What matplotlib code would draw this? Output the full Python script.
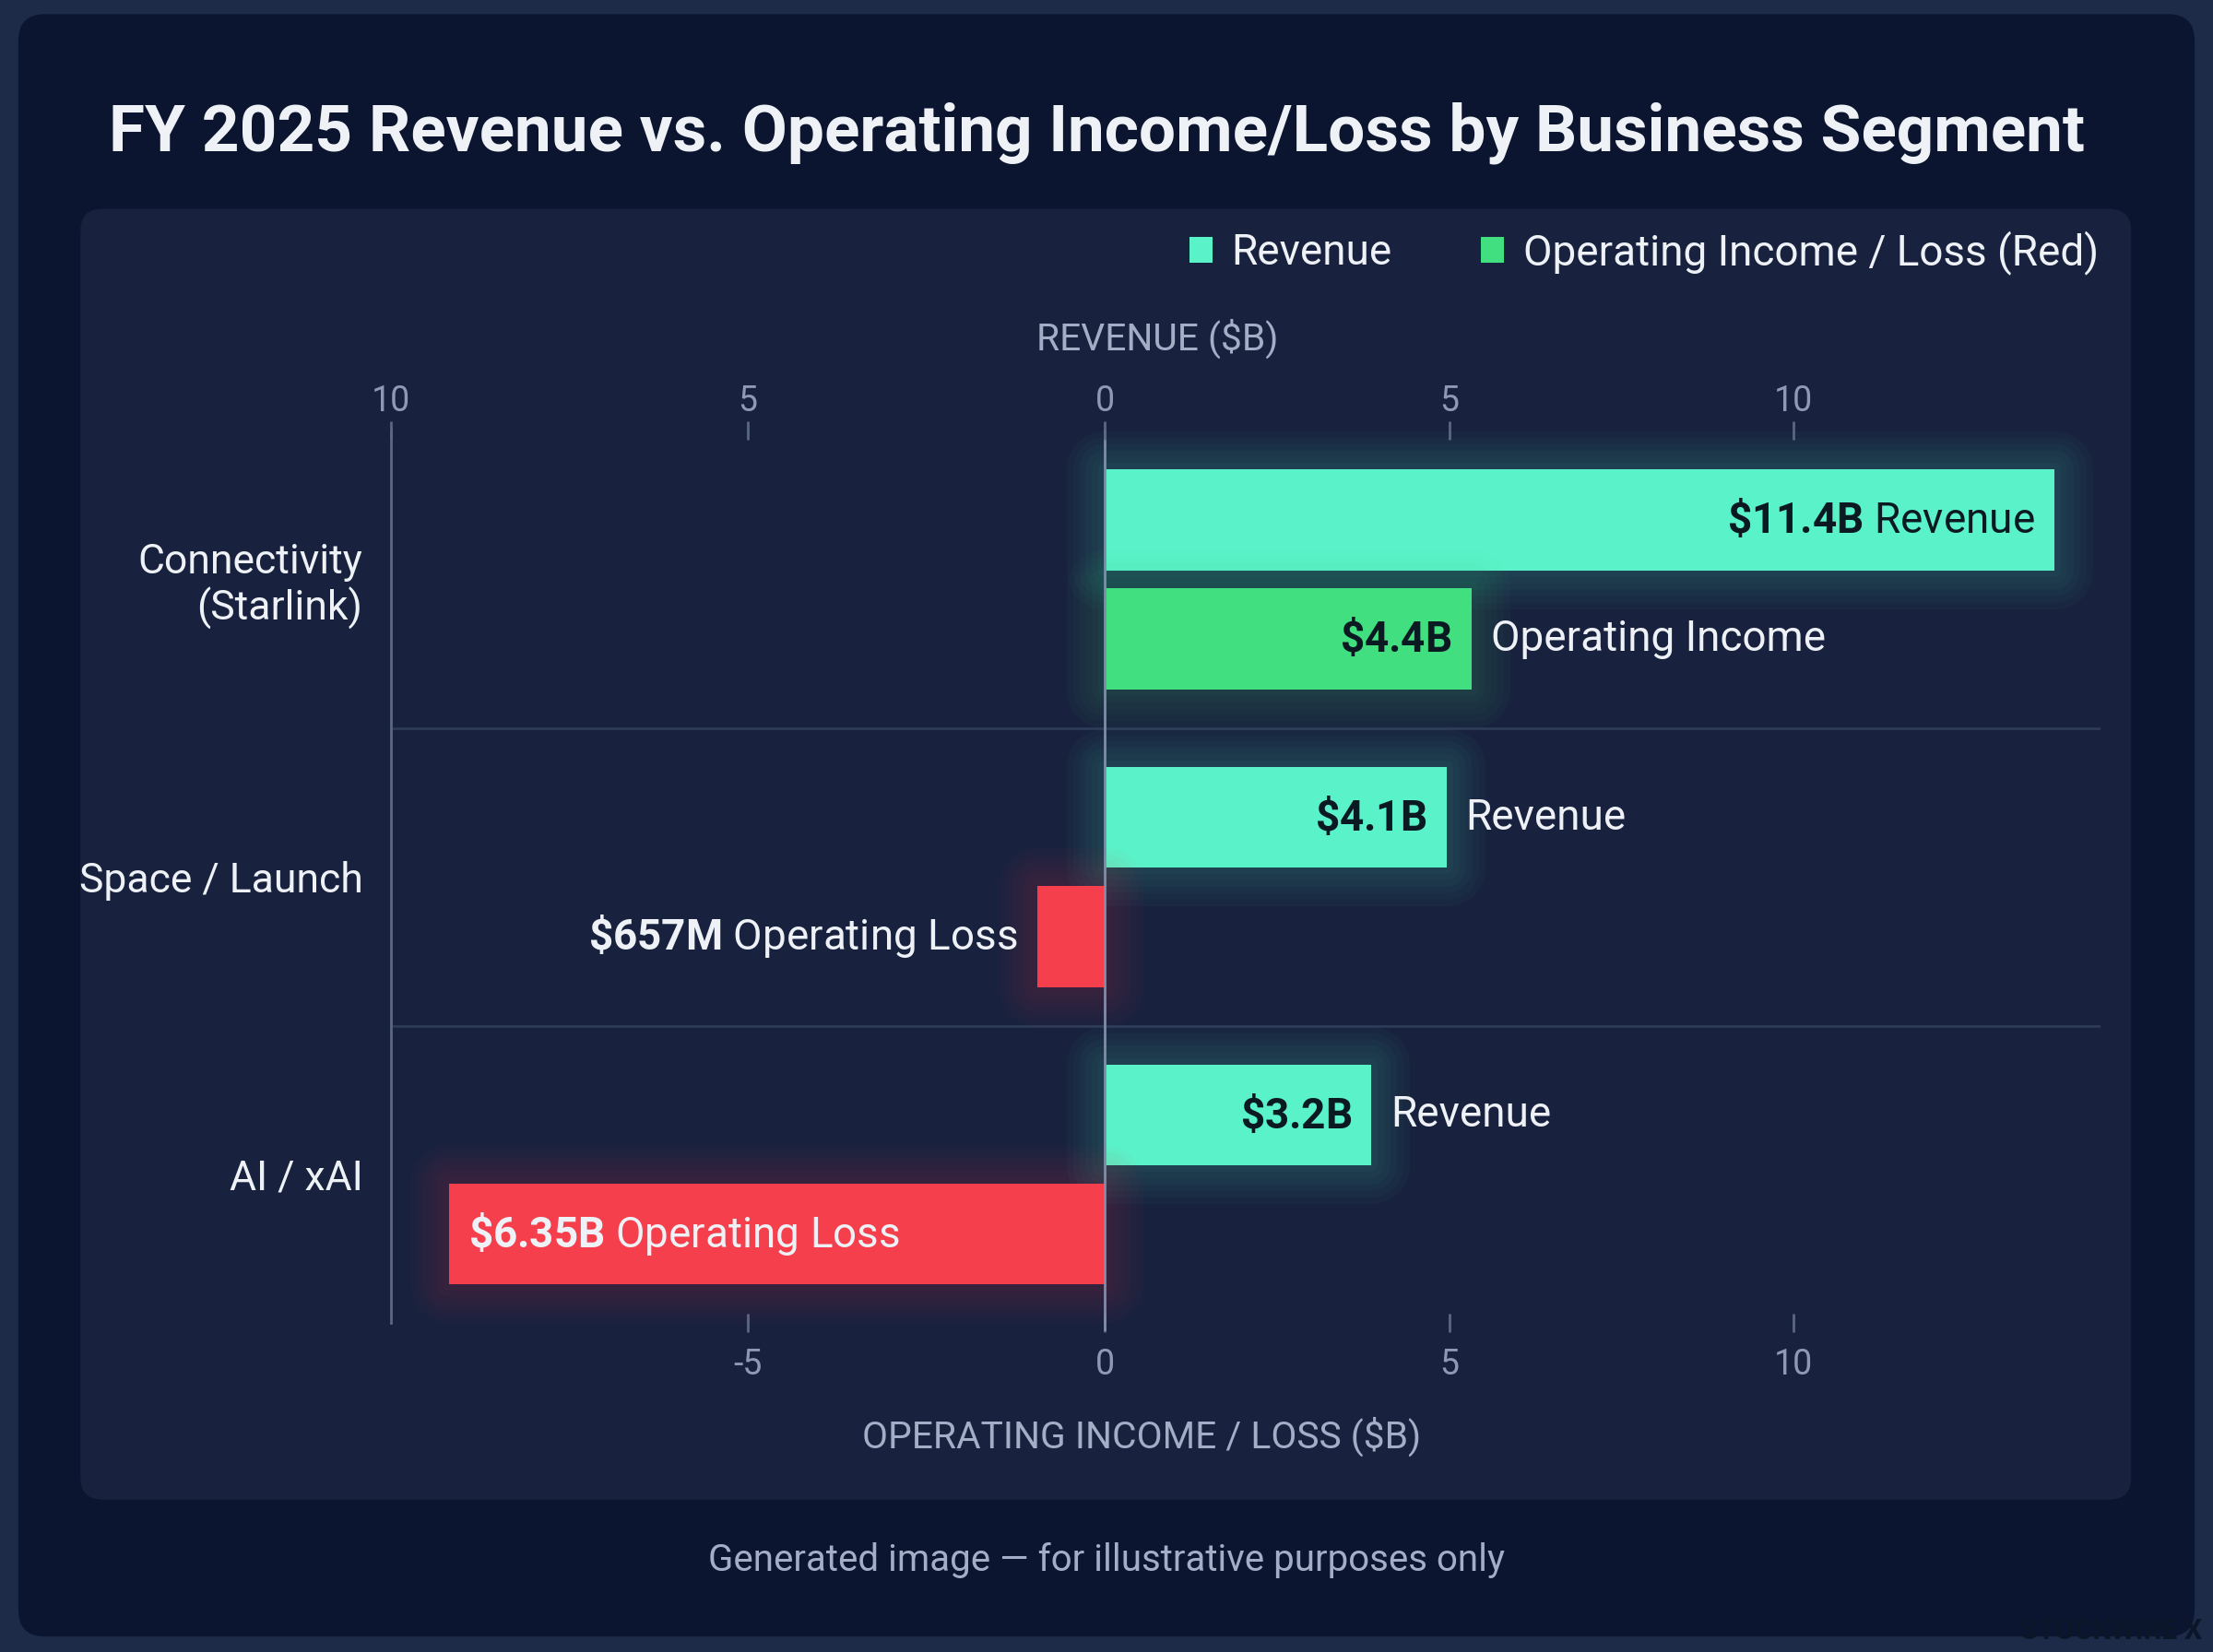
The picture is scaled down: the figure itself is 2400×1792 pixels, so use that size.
import numpy as np
import matplotlib
matplotlib.use("Agg")
import matplotlib.pyplot as plt
import matplotlib.patheffects as pe
from matplotlib.patches import FancyBboxPatch, Patch

plt.rcParams['font.family'] = ['Roboto', 'DejaVu Sans']
plt.rcParams['mathtext.fontset'] = 'custom'
plt.rcParams['mathtext.rm'] = 'Roboto'
plt.rcParams['mathtext.bf'] = 'Roboto:bold'

# data
segments = ["Connectivity\n(Starlink)", "Space / Launch", "AI / xAI"]
revenue = [11.4, 4.1, 3.2]
op_income = [4.4, -0.657, -6.35]
rev_text = ["$11.4B", "$4.1B", "$3.2B"]
op_text = ["$4.4B", "$657M", "$6.35B"]
rev_word = "Revenue"
op_words = ["Operating Income", "Operating Loss", "Operating Loss"]
top_ticks = [-10, -5, 0, 5, 10]
top_tick_labels = ["10", "5", "0", "5", "10"]
bottom_ticks = [-5, 0, 5, 10]
bottom_tick_labels = ["-5", "0", "5", "10"]

# label placement per bar: inside / split (value in, word out) / outside
rev_mode = ["inside", "split", "split"]
op_mode = ["split", "outside", "inside"]

C_REV = "#5af2c9"
C_INC = "#41df7f"
C_LOSS = "#f53f4c"
C_OUTER = "#1d2b48"
C_CARD = "#0b1530"
C_PANEL = "#18223e"
C_WHITE = "#eef1f6"
C_DARK = "#0b1a22"
C_MUTED = "#a3aec6"

W, H = 1568.0, 1171.0  # layout reference grid


def fx(x):
    return x / W


def fy(y):
    return 1 - y / H


# loss side of the chart is drawn a bit wider than the revenue side
LOSS_STRETCH = 1.24


def fwd(x):
    x = np.asarray(x, dtype=float)
    return np.where(x < 0, x * LOSS_STRETCH, x)


def inv(x):
    x = np.asarray(x, dtype=float)
    return np.where(x < 0, x / LOSS_STRETCH, x)


XMIN, XMAX = -6.916, 11.95


def tick_pos(t):
    # axis ticks of the original graphic do not sit on the bar scale
    return [v * 0.827 if v >= 0 else v * (-XMIN / 10) for v in t]


fig = plt.figure(figsize=(12, 8.96), dpi=200)
fig.patch.set_facecolor(C_OUTER)

card = FancyBboxPatch((fx(13), fy(1160)), fx(1555) - fx(13), fy(10) - fy(1160),
                      boxstyle="round,pad=0,rounding_size=0.012", mutation_aspect=W / H,
                      transform=fig.transFigure, facecolor=C_CARD, edgecolor="none", zorder=-2)
fig.patches.append(card)
panel = FancyBboxPatch((fx(57), fy(1063)), fx(1510) - fx(57), fy(148) - fy(1063),
                       boxstyle="round,pad=0,rounding_size=0.01", mutation_aspect=W / H,
                       transform=fig.transFigure, facecolor=C_PANEL, edgecolor="none", zorder=-1)
fig.patches.append(panel)

ax = fig.add_axes([fx(277), fy(938), fx(1488) - fx(277), fy(305) - fy(938)])
ax.set_facecolor("none")
ax.set_xscale("function", functions=(fwd, inv))
ax.set_xlim(XMIN, XMAX)
ax.set_ylim(2.5, -0.5)

y = np.arange(len(segments))
bh = 0.34
off = 0.2


def glow(color):
    fx_list = []
    for lw in [30, 25, 20, 15, 10, 5]:
        fx_list.append(pe.withStroke(linewidth=lw, foreground=color, alpha=0.028,
                                     joinstyle="round"))
    fx_list.append(pe.Normal())
    return fx_list


rev_bars = ax.barh(y - off, revenue, height=bh, color=C_REV, zorder=3)
op_colors = [C_INC if v >= 0 else C_LOSS for v in op_income]
op_bars = ax.barh(y + off, op_income, height=bh, color=op_colors, zorder=3)
for b, c in zip(list(rev_bars) + list(op_bars), [C_REV] * 3 + op_colors):
    b.set_path_effects(glow(c))

fs = 16.5
pad = 7.5


def put(x, yy, s, dx, ha, color):
    ax.annotate(s, xy=(x, yy), xytext=(dx, 0), textcoords="offset points",
                ha=ha, va="center", fontsize=fs, color=color, zorder=5)


def bold(s):
    return r"$\mathbf{" + s.replace("$", r"\$") + "}$"


for i, v in enumerate(revenue):
    if rev_mode[i] == "inside":
        put(v, y[i] - off, bold(rev_text[i]) + " " + rev_word, -pad, "right", C_DARK)
    else:
        put(v, y[i] - off, bold(rev_text[i]), -pad, "right", C_DARK)
        put(v, y[i] - off, rev_word, pad, "left", C_WHITE)

for i, v in enumerate(op_income):
    mode = op_mode[i]
    if v >= 0:
        put(v, y[i] + off, bold(op_text[i]), -pad, "right", C_DARK)
        put(v, y[i] + off, op_words[i], pad, "left", C_WHITE)
    elif mode == "outside":
        put(v, y[i] + off, bold(op_text[i]) + " " + op_words[i], -pad, "right", C_WHITE)
    else:
        put(v, y[i] + off, bold(op_text[i]) + " " + op_words[i], pad, "left", C_WHITE)

# separators and zero line
for s in [0.5, 1.5]:
    ax.axhline(s, color="#2e3b58", lw=1.0, zorder=1)
ax.plot([0, 0], [-0.5, 2.52], color="#7f8dab", lw=1.0, zorder=4, clip_on=False)

for side in ["top", "right", "bottom"]:
    ax.spines[side].set_visible(False)
ax.spines["left"].set_color("#5b6884")
ax.spines["left"].set_linewidth(1.0)

ax.set_yticks(y)
ax.set_yticklabels(segments, fontsize=16, color=C_WHITE, linespacing=1.15, ha="right")
ax.tick_params(axis="y", length=0, pad=11)

ax.set_xticks(tick_pos(bottom_ticks))
ax.set_xticklabels(bottom_tick_labels)
ax.tick_params(axis="x", colors="#5b6884", labelcolor="#8e9ab4", labelsize=13.5,
               length=7, width=1, direction="inout", pad=6)

ax2 = ax.twiny()
ax2.set_xscale("function", functions=(fwd, inv))
ax2.set_xlim(XMIN, XMAX)
ax2.set_xticks(tick_pos(top_ticks))
ax2.set_xticklabels(top_tick_labels)
ax2.tick_params(axis="x", colors="#5b6884", labelcolor="#8e9ab4", labelsize=13.5,
                length=7, width=1, direction="inout", pad=1)
for s in ax2.spines.values():
    s.set_visible(False)
ax2.set_facecolor("none")

fig.text(fx(820), fy(240), "REVENUE ($B)", ha="center", va="center", fontsize=14.7, color=C_MUTED)
fig.text(fx(809), fy(1018), "OPERATING INCOME / LOSS ($B)", ha="center", va="center",
         fontsize=14.7, color=C_MUTED)

fig.text(fx(777), fy(94), "FY 2025 Revenue vs. Operating Income/Loss by Business Segment",
         ha="center", va="center", fontsize=25.6, fontweight="bold", color=C_WHITE)

fig.text(fx(784), fy(1106), "Generated image \u2014 for illustrative purposes only",
         ha="center", va="center", fontsize=14.5, color=C_MUTED)
fig.text(fx(1560), fy(1156), "STOCKWIRE X", ha="right", va="center", fontsize=11,
         fontweight="bold", color="#0c1629")

handles = [Patch(facecolor=C_REV, edgecolor="none", label="Revenue"),
           Patch(facecolor=C_INC, edgecolor="none", label="Operating Income / Loss (Red)")]
leg = fig.legend(handles=handles, loc="center right", bbox_to_anchor=(fx(1487), fy(179)),
                 ncol=2, frameon=False, fontsize=fs, handlelength=0.55, handleheight=0.55,
                 handletextpad=0.45, columnspacing=2.1, borderaxespad=0, borderpad=0)
for t in leg.get_texts():
    t.set_color(C_WHITE)

fig.savefig("out.png", dpi=200, facecolor=fig.get_facecolor())
